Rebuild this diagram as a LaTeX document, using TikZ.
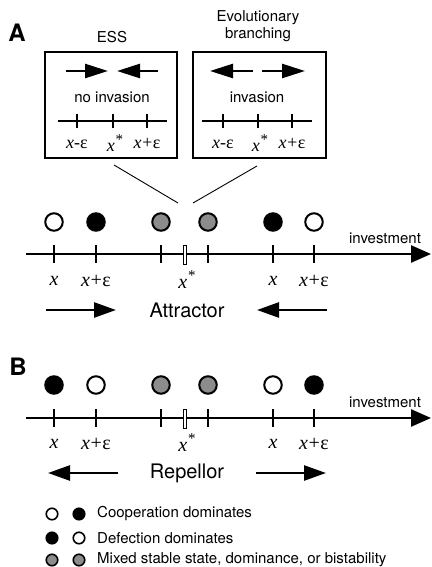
\documentclass[tikz,border=0pt]{standalone}
\usepackage{fontspec}
\setmainfont{TeX Gyre Heros}
\newfontfamily\tms{Liberation Serif}
\usetikzlibrary{arrows.meta}
\newcommand{\mxs}{{\tms\itshape x\kern1pt\raisebox{0.42em}{\upshape\fontsize{15}{15}\selectfont *}}}
\newcommand{\eps}{{\upshape ε}}
\newcommand{\xpe}{x\kern-0.5pt+\kern-0.5pt\eps}
\newcommand{\xme}{x-\eps}
\begin{document}
\begin{tikzpicture}[x=1pt,y=-1pt,
  lbl/.style={inner sep=0pt,font=\fontsize{15}{17}\selectfont},
  big/.style={inner sep=0pt,font=\fontsize{20}{20}\selectfont},
  panel/.style={inner sep=0pt,font=\bfseries\fontsize{24}{24}\selectfont},
  mlbl/.style={inner sep=0pt,font=\fontsize{20}{20}\selectfont\tms\itshape},
  slbl/.style={inner sep=0pt,font=\fontsize{18}{18}\selectfont\tms\itshape},
  frame/.style={draw,line width=1.2pt,inner sep=0pt},
  axis/.style={line width=2.5pt,-{Triangle[length=20pt,width=17pt]}},
  inax/.style={line width=2.6pt},
  tick/.style={line width=2.2pt},
  bigarr/.style={line width=2.5pt,-{Triangle[length=22pt,width=15pt]}},
  boxarr/.style={line width=2.5pt,-{Triangle[length=23pt,width=14pt]}},
  conn/.style={line width=0.9pt},
  dot/.style={circle,draw,line width=2pt,minimum size=17.5pt,inner sep=0pt},
  ldot/.style={circle,draw,line width=1.6pt,minimum size=11.5pt,inner sep=0pt},
  wh/.style={fill=white},
  bk/.style={fill=black},
  gr/.style={fill=black!45},
  star/.style={draw,fill=white,line width=0.8pt,minimum width=3.5pt,minimum height=19pt,inner sep=0pt}
]
\useasboundingbox (0,0) rectangle (431,567);

% ---------- Panel A ----------
\node[panel] (labA) at (17,33) {A};
\node[lbl] (ess) at (112,37) {ESS};
\node[lbl,align=center] (evo) at (258,26.5) {Evolutionary\\branching};
\node[frame,minimum width=132pt,minimum height=106pt] (boxL) at (111,105) {};
\node[frame,minimum width=133pt,minimum height=106pt] (boxR) at (259.5,105) {};

% arrows in boxes
\coordinate (l1s) at (66,71); \coordinate (l1e) at (108,71);
\coordinate (l2s) at (158,71); \coordinate (l2e) at (117,71);
\coordinate (r1s) at (253,71); \coordinate (r1e) at (210,71);
\coordinate (r2s) at (262,71); \coordinate (r2e) at (305,71);
\draw[boxarr] (l1s) -- (l1e);
\draw[boxarr] (l2s) -- (l2e);
\draw[boxarr] (r1s) -- (r1e);
\draw[boxarr] (r2s) -- (r2e);

\node[lbl] (noinv) at (112,97) {no invasion};
\node[lbl] (inv) at (257,97) {invasion};

% inner axes
\coordinate (ilA) at (58,121); \coordinate (ilB) at (167,121);
\coordinate (irA) at (202,121); \coordinate (irB) at (312,121);
\draw[inax] (ilA) -- (ilB);
\draw[inax] (irA) -- (irB);
\foreach \t in {77,113,147,223,258,292}{
  \coordinate (it\t a) at (\t,114.5); \coordinate (it\t b) at (\t,128);
  \draw[tick] (it\t a) -- (it\t b);
}
\node[slbl] (il1) at (77,144) {\xme};
\node[slbl] (il2) at (115,143) {\mxs};
\node[slbl] (il3) at (147,144) {\xpe};
\node[slbl] (ir1) at (223,144) {\xme};
\node[slbl] (ir2) at (260,143) {\mxs};
\node[slbl] (ir3) at (292,144) {\xpe};

% connectors
\coordinate (cL1) at (114,165); \coordinate (cL2) at (178,203);
\coordinate (cR1) at (257,166); \coordinate (cR2) at (193,203);
\draw[conn] (cL1) -- (cL2);
\draw[conn] (cR1) -- (cR2);

% main axis A
\coordinate (axA1) at (26,254); \coordinate (axA2) at (431,254);
\draw[axis] (axA1) -- (axA2);
\foreach \t in {54,96,161,208,273,314}{
  \coordinate (ta\t a) at (\t,245); \coordinate (ta\t b) at (\t,263);
  \draw[tick] (ta\t a) -- (ta\t b);
}
\node[star] (sA) at (185,254.5) {};
\node[dot,wh] (cA1) at (54,222) {};
\node[dot,bk] (cA2) at (96,222) {};
\node[dot,gr] (cA3) at (161,222) {};
\node[dot,gr] (cA4) at (208,222) {};
\node[dot,bk] (cA5) at (273,222) {};
\node[dot,wh] (cA6) at (314,222) {};
\node[lbl] (invA) at (385,238) {investment};
\node[mlbl] (xa1) at (54,281) {x};
\node[mlbl] (xa2) at (96,281) {\xpe};
\node[mlbl] (xa3) at (187,279.5) {\mxs};
\node[mlbl] (xa4) at (273,281) {x};
\node[mlbl] (xa5) at (314,281) {\xpe};
\coordinate (aa1) at (46,310); \coordinate (aa2) at (116,310);
\coordinate (aa3) at (327,310); \coordinate (aa4) at (257,310);
\draw[bigarr] (aa1) -- (aa2);
\draw[bigarr] (aa3) -- (aa4);
\node[big] (attr) at (187,310) {Attractor};

% ---------- Panel B ----------
\node[panel] (labB) at (18,367) {B};
\coordinate (axB1) at (26,418); \coordinate (axB2) at (431,418);
\draw[axis] (axB1) -- (axB2);
\foreach \t in {54,96,161,208,273,314}{
  \coordinate (tb\t a) at (\t,409); \coordinate (tb\t b) at (\t,427);
  \draw[tick] (tb\t a) -- (tb\t b);
}
\node[star] (sB) at (185,418.5) {};
\node[dot,bk] (cB1) at (54,385) {};
\node[dot,wh] (cB2) at (96,385) {};
\node[dot,gr] (cB3) at (161,385) {};
\node[dot,gr] (cB4) at (208,385) {};
\node[dot,wh] (cB5) at (273,385) {};
\node[dot,bk] (cB6) at (314,385) {};
\node[lbl] (invB) at (385,402) {investment};
\node[mlbl] (xb1) at (54,444) {x};
\node[mlbl] (xb2) at (96,444) {\xpe};
\node[mlbl] (xb3) at (187,442.5) {\mxs};
\node[mlbl] (xb4) at (273,444) {x};
\node[mlbl] (xb5) at (314,444) {\xpe};
\coordinate (ba1) at (118,473); \coordinate (ba2) at (48,473);
\coordinate (ba3) at (256,473); \coordinate (ba4) at (326,473);
\draw[bigarr] (ba1) -- (ba2);
\draw[bigarr] (ba3) -- (ba4);
\node[big] (rep) at (187,473) {Repellor};

% ---------- Legend ----------
\node[ldot,wh] (g1a) at (52,514) {};
\node[ldot,bk] (g1b) at (79,514) {};
\node[lbl,anchor=west] (g1t) at (97,514) {Cooperation dominates};
\node[ldot,bk] (g2a) at (52,538) {};
\node[ldot,wh] (g2b) at (79,538) {};
\node[lbl,anchor=west] (g2t) at (97,538) {Defection dominates};
\node[ldot,gr] (g3a) at (52,560) {};
\node[ldot,gr] (g3b) at (79,560) {};
\node[lbl,anchor=west] (g3t) at (97,560) {Mixed stable state, dominance, or bistability};
\end{tikzpicture}
\end{document}
